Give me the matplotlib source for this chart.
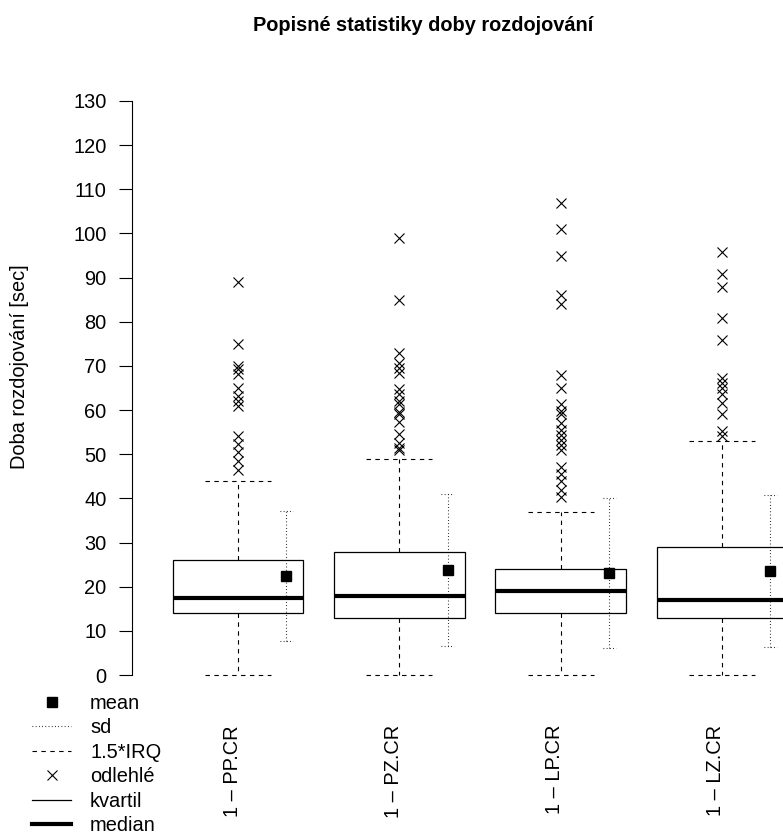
import numpy as np
import matplotlib
matplotlib.use('Agg')
import matplotlib.pyplot as plt
from matplotlib.lines import Line2D
from matplotlib.transforms import ScaledTranslation

plt.rcParams['font.family'] = ['Liberation Sans', 'DejaVu Sans']
plt.rcParams['font.size'] = 14.4

groups = ['1 \u2013 PP.CR', '1 \u2013 PZ.CR', '1 \u2013 LP.CR', '1 \u2013 LZ.CR']
q1 = [14.1, 12.9, 14.1, 12.9]
med = [17.4, 17.9, 19.0, 16.9]
q3 = [26.0, 27.8, 23.9, 29.0]
whislo = [0, 0, 0, 0]
whishi = [44.0, 48.9, 37.0, 53.0]
means = [22.45, 23.7, 23.1, 23.5]
sds = [14.75, 17.2, 17.05, 17.2]
outliers = [
    [89, 75, 70.0, 69.2, 68.1, 65.1, 63.2, 62.1, 60.9, 54.2, 52.3, 50.4, 48.5, 46.4],
    [99, 85, 73, 70.7, 69.6, 68.5, 64.7, 63.6, 62.1, 61.3, 59.6, 59.2, 57.2, 54.6,
     52.5, 51.4, 51.0],
    [107, 101, 95, 86, 84, 68, 65, 61.3, 59.8, 59.1, 57.1, 55.5, 54.4, 53.2, 52.1,
     51.0, 47, 45.5, 44, 41.8, 40.4],
    [95.9, 90.8, 87.8, 80.9, 75.8, 67.3, 66.2, 65.1, 63.6, 61.7, 59.1, 55.3, 54.2],
]

W, H = 783, 836
fig = plt.figure(figsize=(W / 100, H / 100), dpi=100)
ax = fig.add_axes([132 / W, 1 - 698 / H, 1 - 132 / W, (698 - 78) / H])

pos = np.arange(1, len(groups) + 1)
stats = []
for i in range(len(groups)):
    stats.append(dict(med=med[i], q1=q1[i], q3=q3[i], whislo=whislo[i],
                      whishi=whishi[i], fliers=outliers[i]))

ax.bxp(stats, positions=pos, widths=0.81, capwidths=0.41, patch_artist=True,
       boxprops=dict(facecolor='white', edgecolor='black', linewidth=0.9),
       medianprops=dict(color='black', linewidth=3),
       whiskerprops=dict(color='black', linewidth=0.8, linestyle=(0, (4, 4))),
       capprops=dict(color='black', linewidth=0.8, linestyle=(0, (4, 4))),
       flierprops=dict(marker='x', markersize=7.5, markeredgewidth=0.8,
                       markeredgecolor='black', linestyle='none'))

# mean +- sd, drawn to the right of each box
off = 0.30
xs = pos + off
lo = np.array(means) - np.array(sds)
hi = np.array(means) + np.array(sds)
ax.vlines(xs, lo, hi, colors='black', linewidth=0.8, linestyles=(0, (0.7, 2.2)), zorder=4)
ax.hlines(lo, xs - 0.04, xs + 0.04, colors='black', linewidth=0.8, linestyles=(0, (0.7, 2.2)), zorder=4)
ax.hlines(hi, xs - 0.04, xs + 0.04, colors='black', linewidth=0.8, linestyles=(0, (0.7, 2.2)), zorder=4)
ax.plot(xs, means, 's', color='black', markersize=7.2, zorder=5)

ax.set_xlim(1 - (238 - 132) / 161.33, 4 + (783 - 722) / 161.33)
ax.set_ylim(-5.2, 135.2)
ax.set_yticks(np.arange(0, 131, 10))
ax.tick_params(axis='y', length=9.4, width=0.8, pad=9)
for s in ['top', 'right', 'bottom']:
    ax.spines[s].set_visible(False)
ax.spines['left'].set_bounds(0, 130)
ax.spines['left'].set_linewidth(0.8)

ax.set_xticks(pos)
ax.set_xticklabels(groups, rotation=90)
ax.tick_params(axis='x', length=0, pad=19.4)
for lab in ax.get_xticklabels():
    lab.set_transform(lab.get_transform() + ScaledTranslation(-6 / 100, 0, fig.dpi_scale_trans))

fig.text(423 / W, 1 - 31 / H, 'Popisn\u00e9 statistiky doby rozdojov\u00e1n\u00ed',
         ha='center', va='baseline', fontweight='bold')
fig.text(19.5 / W, 1 - 367 / H, 'Doba rozdojov\u00e1n\u00ed [sec]', rotation=90,
         ha='center', va='center')

handles = [
    Line2D([], [], marker='s', color='black', linestyle='none', markersize=7.2),
    Line2D([], [], color='black', linewidth=0.8, linestyle=(0, (0.7, 2.2))),
    Line2D([], [], color='black', linewidth=0.8, linestyle=(0, (4, 4))),
    Line2D([], [], marker='x', color='black', linestyle='none', markersize=7.5, markeredgewidth=0.8),
    Line2D([], [], color='black', linewidth=0.9),
    Line2D([], [], color='black', linewidth=3),
]
labels = ['mean', 'sd', '1.5*IRQ', 'odlehl\u00e9', 'kvartil', 'median']
fig.legend(handles, labels, loc='upper left', bbox_to_anchor=(32 / W, 1 - 694 / H),
           frameon=False, borderpad=0, borderaxespad=0, handlelength=1.95,
           handletextpad=0.95, labelspacing=0.27)

fig.savefig('out.png', dpi=100)
